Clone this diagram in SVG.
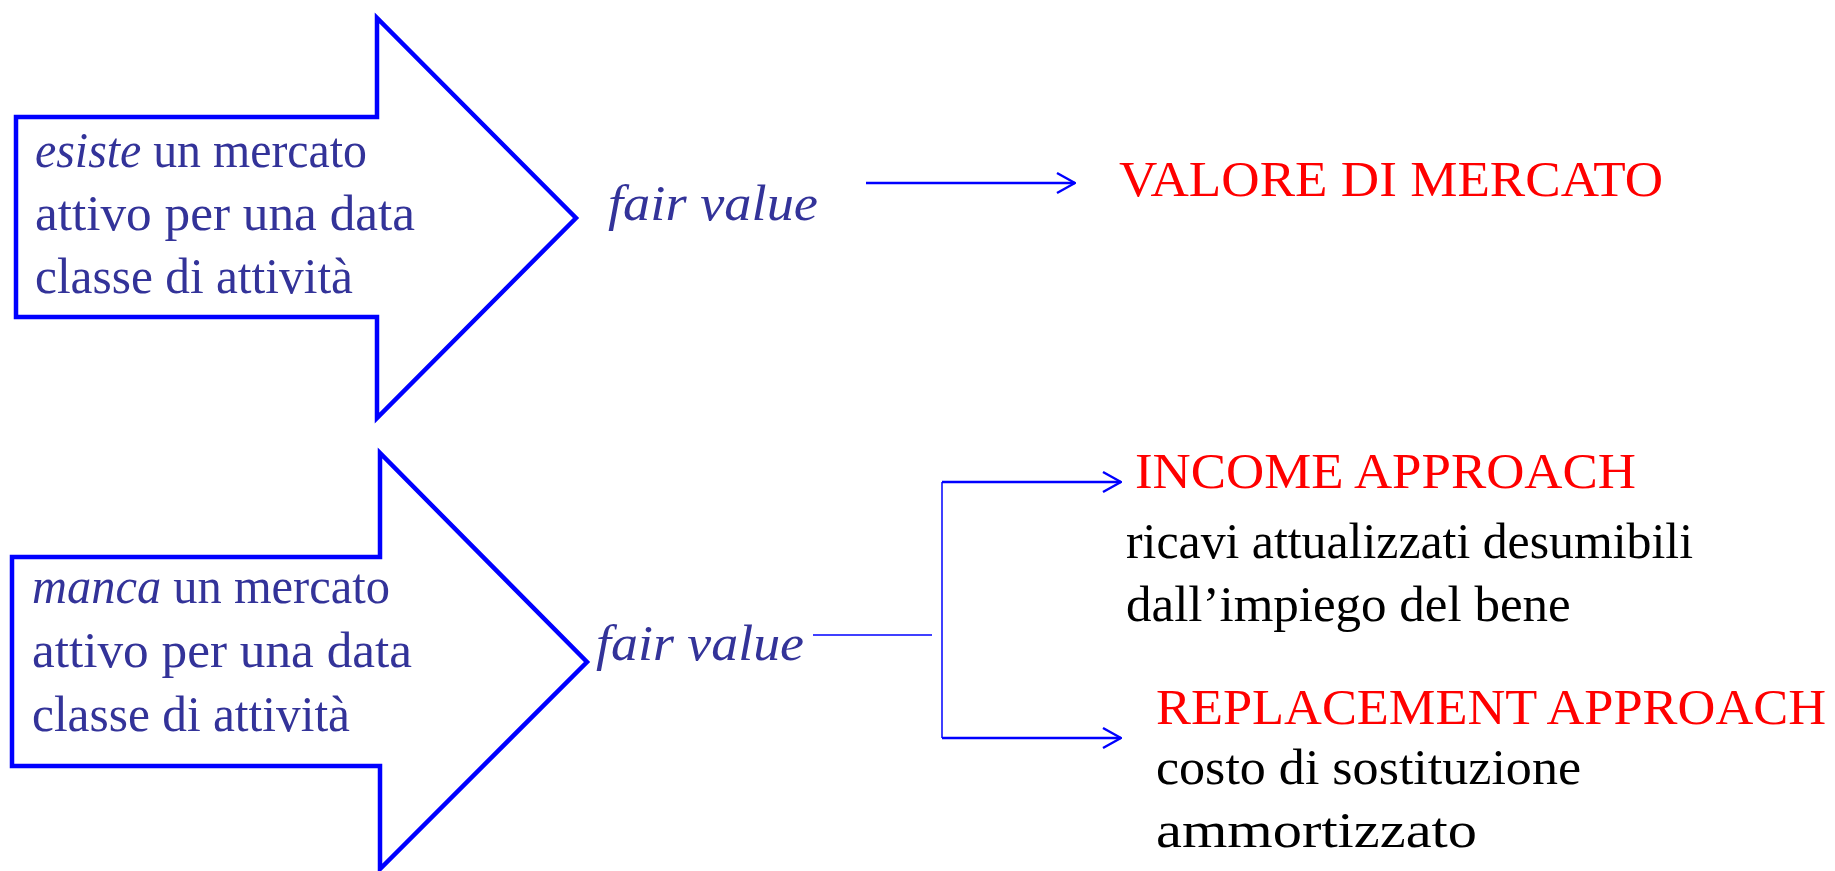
<svg xmlns="http://www.w3.org/2000/svg" width="1835" height="871" viewBox="0 0 1835 871">
<style>
text{font-family:'Liberation Serif','DejaVu Serif','Times New Roman',serif;font-size:51px}
.blue{fill:#333399}
.red{fill:#FF0000}
.blk{fill:#000000}
.it{font-style:italic}
.arrow{fill:#FFFFFF;stroke:#0000FF;stroke-width:4.5}
.conn{fill:none;stroke:#0000FF;stroke-width:2.5}
.thin{fill:none;stroke:#0000FF;stroke-width:1.5}
</style>
<defs>
<marker id="open" markerWidth="20" markerHeight="24" viewBox="0 0 20 24" refX="19" refY="12" markerUnits="userSpaceOnUse" orient="auto">
<path d="M1,2 L19,12 L1,22" fill="none" stroke="#0000FF" stroke-width="2.5"/>
</marker>
</defs>
<rect width="1835" height="871" fill="#FFFFFF"/>
<g id="arrow-esiste">
<path class="arrow" d="M16,117 H377 V18 L576,218 L377,418 V317 H16 Z"/>
<text class="blue" x="35" y="167" textLength="332" lengthAdjust="spacingAndGlyphs"><tspan class="it">esiste</tspan> un mercato</text>
<text class="blue" x="35" y="230" textLength="380" lengthAdjust="spacingAndGlyphs">attivo per una data</text>
<text class="blue" x="35" y="293" textLength="318" lengthAdjust="spacingAndGlyphs">classe di attività</text>
</g>
<g id="arrow-manca">
<path class="arrow" d="M12,557 H380 V453 L587,662 L380,869 V766 H12 Z"/>
<text class="blue" x="32" y="603" textLength="358" lengthAdjust="spacingAndGlyphs"><tspan class="it">manca</tspan> un mercato</text>
<text class="blue" x="32" y="667" textLength="380" lengthAdjust="spacingAndGlyphs">attivo per una data</text>
<text class="blue" x="32" y="731" textLength="318" lengthAdjust="spacingAndGlyphs">classe di attività</text>
</g>
<g id="fv-top">
<text class="blue it" x="608" y="220" font-size="53" textLength="210" lengthAdjust="spacingAndGlyphs">fair value</text>
</g>
<g id="fv-bottom">
<text class="blue it" x="596" y="660" font-size="53" textLength="208" lengthAdjust="spacingAndGlyphs">fair value</text>
</g>
<g id="valore">
<text class="red" x="1119" y="196" textLength="544" lengthAdjust="spacingAndGlyphs">VALORE DI MERCATO</text>
</g>
<g id="income">
<text class="red" x="1135" y="488" textLength="501" lengthAdjust="spacingAndGlyphs">INCOME APPROACH</text>
<text class="blk" x="1126" y="558" textLength="567" lengthAdjust="spacingAndGlyphs">ricavi attualizzati desumibili</text>
<text class="blk" x="1126" y="621">dall’impiego del bene</text>
</g>
<g id="replacement">
<text class="red" x="1156" y="724" textLength="670" lengthAdjust="spacingAndGlyphs">REPLACEMENT APPROACH</text>
<text class="blk" x="1156" y="784" textLength="425" lengthAdjust="spacingAndGlyphs">costo di sostituzione</text>
<text class="blk" x="1156" y="847" textLength="321" lengthAdjust="spacingAndGlyphs">ammortizzato</text>
</g>
<g id="connectors">
<line class="conn" x1="866" y1="183" x2="1075" y2="183" marker-end="url(#open)"/>
<line class="thin" x1="813" y1="635" x2="932" y2="635"/>
<line class="thin" x1="942" y1="482" x2="942" y2="738"/>
<line class="conn" x1="942" y1="482" x2="1121" y2="482" marker-end="url(#open)"/>
<line class="conn" x1="942" y1="738" x2="1121" y2="738" marker-end="url(#open)"/>
</g>
</svg>
